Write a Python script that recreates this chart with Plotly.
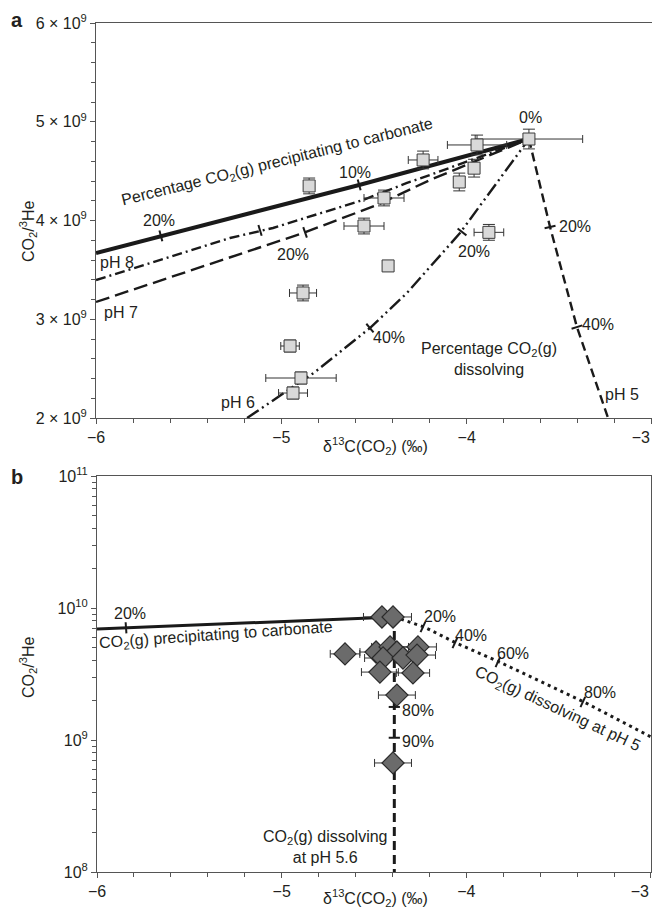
import math
import plotly.graph_objects as go

FONT = "Liberation Sans, Arial, sans-serif"
INK = "#231f20"
LINE = "#1a1a1a"
AX = "#555555"

# ---------------- Panel a data (CO2/3He in units of 1e9) ----------------
a_x = [-3.664, -3.944, -4.235, -3.960, -4.040, -4.850, -4.446, -4.554, -3.880, -4.424, -4.883, -4.953, -4.894, -4.937]
a_y = [4.825, 4.765, 4.613, 4.530, 4.390, 4.350, 4.228, 3.944, 3.880, 3.540, 3.266, 2.729, 2.405, 2.253]
a_xerr = [0.29, 0.16, 0.08, 0.0, 0.0, 0.0, 0.108, 0.108, 0.08, 0.0, 0.073, 0.05, 0.19, 0.078]
a_yerr = [0.10, 0.10, 0.09, 0.09, 0.09, 0.08, 0.08, 0.08, 0.08, 0.05, 0.08, 0.06, 0.06, 0.06]

# model curves, panel a
prec_x = [-6.0, -4.58, -3.664]
prec_y = [3.671, 4.36, 4.825]
ph8_x = [-6.0, -5.277, -5.045, -4.791, -4.559, -4.322, -4.198, -3.664]
ph8_y = [3.397, 3.823, 3.924, 4.076, 4.208, 4.380, 4.461, 4.825]
ph7_x = [-6.0, -5.277, -4.883, -4.484, -4.198, -3.664]
ph7_y = [3.175, 3.630, 3.873, 4.157, 4.410, 4.825]
ph6_x = [-5.185, -4.818, -4.522, -4.322, -4.036, -3.664]
ph6_y = [2.0, 2.466, 2.911, 3.266, 3.873, 4.825]
ph5_x = [-3.664, -3.550, -3.405, -3.237]
ph5_y = [4.825, 3.934, 2.921, 2.0]

# percentage tick marks on curves, panel a
a_tick_x = [-5.65, -4.58, -5.115, -4.872, -4.025, -4.522, -3.550, -3.405]
a_tick_y = [3.844, 4.36, 3.90, 3.88, 3.884, 2.911, 3.934, 2.921]
a_tick_ang = [-15, -15, -17, -19, -52, -40, 77, 73]

# ---------------- Panel b data ----------------
b_x = [-4.457, -4.397, -4.657, -4.489, -4.413, -4.376, -4.451, -4.343, -4.262, -4.267, -4.468, -4.289, -4.376, -4.397]
b_y = [8.55e9, 8.55e9, 4.49e9, 4.64e9, 5.07e9, 4.64e9, 4.18e9, 4.18e9, 5.07e9, 4.40e9, 3.27e9, 3.22e9, 2.19e9, 6.7e8]
b_xerr = [0.10, 0.10, 0.08, 0.087, 0.10, 0.10, 0.10, 0.10, 0.10, 0.10, 0.10, 0.09, 0.10, 0.10]

bprec_x = [-6.0, -4.39]
bprec_y = [6.93e9, 8.55e9]
bph5_x = [-4.39, -4.228, -4.055, -3.822, -3.362, -3.0]
bph5_y = [8.55e9, 7.18e9, 5.43e9, 3.90e9, 1.94e9, 1.055e9]
bph56_x = [-4.39, -4.39]
bph56_y = [8.55e9, 1.0e8]

b_tick_x = [-5.843, -4.235, -4.062, -3.829, -3.369, -4.39, -4.39]
b_tick_y = [7.08e9, 7.18e9, 5.43e9, 3.90e9, 1.94e9, 1.78e9, 1.04e9]
b_tick_ang = [-4, 25, 25, 25, 25, 90, 90]

x_ticks = [-6, -5, -4, -3]
# the last label is padded so that it stays inside the visible page
x_ticktext = ["\u22126", "\u22125", "\u22124", "\u22123\u00a0\u00a0\u00a0\u00a0\u00a0"]
a_yticks = [2, 3, 4, 5, 6]
a_yticktext = [f"{v} \u00d7 10<sup>9</sup>" for v in a_yticks]
b_yticks = [1e8, 1e9, 1e10, 1e11]
b_yticktext = ["10<sup>8</sup>", "10<sup>9</sup>", "10<sup>10</sup>", "10<sup>11</sup>"]
b_yminor = [m * 10 ** e for e in (8, 9, 10) for m in range(2, 10)]

fig = go.Figure()

def curve(x, y, dash, width, xa, ya):
    fig.add_trace(go.Scatter(x=x, y=y, mode="lines", xaxis=xa, yaxis=ya,
                             line=dict(color=LINE, width=width, dash=dash),
                             hoverinfo="skip"))

ea = [v * 1e9 for v in a_y]
# Panel a curves
curve(prec_x, [v * 1e9 for v in prec_y], "solid", 4, "x", "y")
curve(ph8_x, [v * 1e9 for v in ph8_y], "10px,4px,2px,4px", 2.4, "x", "y")
curve(ph7_x, [v * 1e9 for v in ph7_y], "14px,6px", 2.4, "x", "y")
curve(ph6_x, [v * 1e9 for v in ph6_y], "14px,4px,2px,4px,2px,4px", 2.4, "x", "y")
curve(ph5_x, [v * 1e9 for v in ph5_y], "9px,5px", 2.4, "x", "y")

fig.add_trace(go.Scatter(x=a_tick_x, y=[v * 1e9 for v in a_tick_y], mode="markers", xaxis="x", yaxis="y",
                         marker=dict(symbol="line-ns", size=8, angle=a_tick_ang,
                                     line=dict(color=LINE, width=2)), hoverinfo="skip"))

fig.add_trace(go.Scatter(
    x=a_x, y=ea, mode="markers", xaxis="x", yaxis="y",
    error_x=dict(type="data", array=a_xerr, color="#333333", thickness=1, width=4),
    error_y=dict(type="data", array=[v * 1e9 for v in a_yerr], color="#333333", thickness=1, width=6),
    marker=dict(symbol="square", size=12, color="#d9d9d9", line=dict(color="#3a3a3a", width=1)),
    hoverinfo="skip"))

# Panel b curves
curve(bprec_x, bprec_y, "solid", 3, "x2", "y2")
curve(bph5_x, bph5_y, "3px,4px", 3, "x2", "y2")
curve(bph56_x, bph56_y, "9px,5px", 3, "x2", "y2")

fig.add_trace(go.Scatter(x=b_tick_x, y=b_tick_y, mode="markers", xaxis="x2", yaxis="y2",
                         marker=dict(symbol="line-ns", size=8, angle=b_tick_ang,
                                     line=dict(color=LINE, width=2)), hoverinfo="skip"))

fig.add_trace(go.Scatter(
    x=b_x, y=b_y, mode="markers", xaxis="x2", yaxis="y2",
    error_x=dict(type="data", array=b_xerr, color="#333333", thickness=1, width=4),
    marker=dict(symbol="diamond", size=17, color="#6b6b6b", line=dict(color="#2b2b2b", width=1.2)),
    hoverinfo="skip"))

# The page body adds an 8px margin, so all page positions are shifted by that offset.
OFF = 8
W, H = 660, 908
def px(x):
    return (x - OFF) / W
def py(y):
    return 1 - (y - OFF) / H

axis_common = dict(showline=True, linecolor=AX, linewidth=1, mirror=True,
                   ticks="outside", ticklen=5, tickcolor=AX, tickwidth=1,
                   showgrid=False, zeroline=False, automargin=False,
                   ticklabeloverflow="allow",
                   tickfont=dict(family=FONT, size=16, color=INK))

fig.update_layout(
    width=W, height=H, margin=dict(l=0, r=0, t=0, b=0, pad=0, autoexpand=False),
    paper_bgcolor="white", plot_bgcolor="white", showlegend=False,
    xaxis=dict(domain=[px(96), px(652)], anchor="y", range=[-6.0001, -2.9999],
               tickvals=x_ticks, ticktext=x_ticktext,
               minor=dict(dtick=0.2, ticks="outside", ticklen=4, tickcolor=AX), **axis_common),
    yaxis=dict(domain=[py(418), py(23)], anchor="x", range=[2e9, 6e9],
               tickvals=[v * 1e9 for v in a_yticks], ticktext=a_yticktext,
               minor=dict(dtick=2e8, ticks="outside", ticklen=4, tickcolor=AX), **axis_common),
    xaxis2=dict(domain=[px(97), px(651)], anchor="y2", range=[-6.0001, -2.9999],
                tickvals=x_ticks, ticktext=x_ticktext,
                minor=dict(dtick=0.2, ticks="outside", ticklen=4, tickcolor=AX), **axis_common),
    yaxis2=dict(domain=[py(872), py(476)], anchor="x2", type="log", range=[8, 11],
                tickvals=b_yticks, ticktext=b_yticktext,
                minor=dict(tickvals=b_yminor, ticks="outside", ticklen=4, tickcolor=AX), **axis_common),
)

def note(text, x, y, xref="x", yref="y", size=16, angle=0, xanchor="center", yanchor="middle", bold=False, align="center"):
    if bold:
        text = f"<b>{text}</b>"
    if yref == "y2":
        y = math.log10(y)
    fig.add_annotation(text=text, x=x, y=y, xref=xref, yref=yref, showarrow=False,
                       textangle=angle, xanchor=xanchor, yanchor=yanchor, align=align,
                       font=dict(family=FONT, size=size, color=INK))

# Panel a text
note("0%", -3.653, 5.038e9)
note("10%", -4.602, 4.491e9)
note("20%", -5.66, 3.995e9)
note("20%", -4.937, 3.651e9)
note("20%", -3.96, 3.681e9)
note("20%", -3.415, 3.944e9)
note("40%", -4.419, 2.82e9)
note("40%", -3.291, 2.942e9)
note("pH 8", -5.989, 3.57e9, xanchor="left")
note("pH 7", -5.968, 3.073e9, xanchor="left")
note("pH 6", -5.234, 2.152e9)
note("pH 5", -3.162, 2.233e9)
note("Percentage CO<sub>2</sub>(g)<br>dissolving", -3.879, 2.598e9)
note("Percentage CO<sub>2</sub>(g) precipitating to carbonate", -5.023, 4.592e9, angle=-14)

# Panel b text
note("20%", -5.821, 9.16e9, "x2", "y2")
note("CO<sub>2</sub>(g) precipitating to carbonate", -5.356, 6.14e9, "x2", "y2", angle=-4)
note("20%", -4.143, 8.55e9, "x2", "y2")
note("40%", -3.975, 6.24e9, "x2", "y2")
note("60%", -3.747, 4.56e9, "x2", "y2")
note("80%", -3.276, 2.31e9, "x2", "y2")
note("CO<sub>2</sub>(g) dissolving at pH 5", -3.504, 1.69e9, "x2", "y2", angle=25)
note("80%", -4.359, 1.66e9, "x2", "y2", xanchor="left")
note("90%", -4.359, 9.66e8, "x2", "y2", xanchor="left")
note("CO<sub>2</sub>(g) dissolving<br>at pH 5.6", -4.76, 1.545e8, "x2", "y2")

# axis titles and panel letters
note("CO<sub>2</sub>/<sup>3</sup>He", px(28), py(232), "paper", "paper", angle=-90)
note("CO<sub>2</sub>/<sup>3</sup>He", px(28), py(668), "paper", "paper", angle=-90)
note("\u03b4<sup>13</sup>C(CO<sub>2</sub>) (\u2030)", px(375), py(446), "paper", "paper")
note("\u03b4<sup>13</sup>C(CO<sub>2</sub>) (\u2030)", px(375), py(898), "paper", "paper")
note("a", px(17), py(20), "paper", "paper", size=20, bold=True)
note("b", px(17), py(477), "paper", "paper", size=20, bold=True)

fig.write_html("out.html")
